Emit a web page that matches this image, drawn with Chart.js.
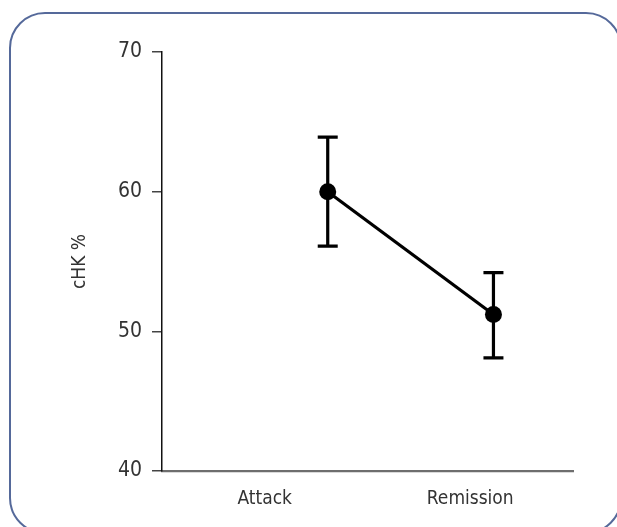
<!DOCTYPE html>
<html>
<head>
<meta charset="utf-8">
<script src="https://cdn.jsdelivr.net/npm/chart.js@4/dist/chart.umd.min.js"></script>
<style>
  html, body { margin: 0; padding: 0; background: #fff; }
  body { width: 617px; height: 527px; position: relative; overflow: hidden; }
  .frame {
    position: absolute; left: 9px; top: 12px; width: 613px; height: 522px;
    border: 2px solid #55699a; border-radius: 36px; box-sizing: border-box;
  }
  canvas { position: absolute; left: 0; top: 0; }
</style>
</head>
<body>
<div class="frame"></div>
<canvas id="c" width="617" height="527"></canvas>
<script>
// Mean cHK % with error range for each phase
const categories = ['Attack', 'Remission'];
const positions = [1, 2];
const means = [60.0, 51.2];
const upper = [63.9, 54.2];
const lower = [56.1, 48.1];
const yTicks = [40, 50, 60, 70];

const FONT = '"Liberation Sans Narrow", "DejaVu Sans Condensed", "Open Sans", sans-serif';

// Draws vertical error bars with caps from the upper/lower arrays
const errorBars = {
  id: 'errorBars',
  afterDatasetsDraw(chart) {
    const ctx = chart.ctx;
    const xs = chart.scales.xv, ys = chart.scales.y;
    ctx.save();
    ctx.strokeStyle = '#000';
    ctx.lineWidth = 3.2;
    ctx.lineCap = 'butt';
    positions.forEach((p, i) => {
      const x = xs.getPixelForValue(p);
      const yt = ys.getPixelForValue(upper[i]);
      const yb = ys.getPixelForValue(lower[i]);
      ctx.beginPath();
      ctx.moveTo(x, yt); ctx.lineTo(x, yb);
      ctx.moveTo(x - 10, yt); ctx.lineTo(x + 10, yt);
      ctx.moveTo(x - 10, yb); ctx.lineTo(x + 10, yb);
      ctx.stroke();
    });
    ctx.restore();
  }
};

new Chart(document.getElementById('c'), {
  type: 'line',
  data: {
    datasets: [{
      data: positions.map((p, i) => ({ x: p, y: means[i] })),
      xAxisID: 'xv',
      yAxisID: 'y',
      borderColor: '#000',
      borderWidth: 3.2,
      pointRadius: 8.5,
      pointBackgroundColor: '#000',
      pointBorderColor: '#000',
      pointBorderWidth: 0,
      tension: 0
    }]
  },
  options: {
    responsive: false,
    animation: false,
    events: [],
    layout: { padding: { top: 52, right: 44, left: 0, bottom: 0 } },
    plugins: { legend: { display: false }, tooltip: { enabled: false } },
    scales: {
      xv: {
        type: 'linear', display: false, min: 0, max: 2.48
      },
      x: {
        type: 'category',
        labels: categories,
        position: 'bottom',
        offset: true,
        grid: { display: false, drawTicks: false },
        border: { display: true, color: '#6e6e6e', width: 2.2 },
        ticks: { color: '#333', padding: 17, font: { family: FONT, size: 19 } },
        afterFit(s) { s.height = 56; }
      },
      y: {
        type: 'linear',
        min: 40, max: 70,
        afterBuildTicks(s) { s.ticks = yTicks.map(v => ({ value: v })); },
        grid: { drawOnChartArea: false, drawTicks: true, tickLength: 10, color: '#444', lineWidth: 1.5 },
        border: { display: true, color: '#111', width: 1.5 },
        ticks: { color: '#333', padding: 10, font: { family: FONT, size: 21 } },
        title: {
          display: true, text: 'cHK %', color: '#333',
          font: { family: FONT, size: 19 }, padding: { top: 69, bottom: 0 }
        },
        afterFit(s) { s.width = 162; }
      }
    }
  },
  plugins: [errorBars]
});
</script>
</body>
</html>
